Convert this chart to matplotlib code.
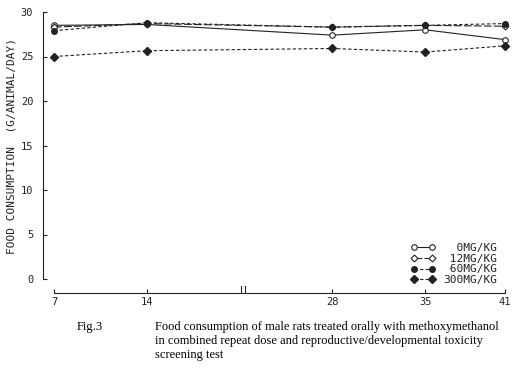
import numpy as np
import matplotlib
matplotlib.use("Agg")
import matplotlib.pyplot as plt
import matplotlib.transforms as mtransforms

# Days of administration and mean food consumption (g/animal/day)
days = [7, 14, 28, 35, 41]
dose_0 = [28.5, 28.6, 27.4, 28.0, 26.9]
dose_12 = [28.3, 28.7, 28.3, 28.5, 28.4]
dose_60 = [27.9, 28.8, 28.3, 28.5, 28.7]
dose_300 = [25.0, 25.65, 25.9, 25.5, 26.2]

labels = ["  0MG/KG", " 12MG/KG", " 60MG/KG", "300MG/KG"]
yticks = [0, 5, 10, 15, 20, 25, 30]

mono = "DejaVu Sans Mono"
ink = "#222222"

fig = plt.figure(figsize=(5.16, 3.74), dpi=100)
ax = fig.add_axes([43 / 516, 1 - 279 / 374, (510 - 43) / 516, (279 - 12) / 374])

ax.plot(days, dose_0, color=ink, lw=0.8, ls="-", marker="o", ms=4,
        mfc="white", mec=ink, mew=0.8, clip_on=False, label=labels[0])
ax.plot(days, dose_12, color=ink, lw=0.8, ls=(0, (7, 2)), marker="D", ms=3.5,
        mfc="white", mec=ink, mew=0.8, clip_on=False, label=labels[1])
ax.plot(days, dose_60, color=ink, lw=0.8, ls=(0, (3, 2)), marker="o", ms=4,
        mfc=ink, mec=ink, clip_on=False, label=labels[2])
ax.plot(days, dose_300, color=ink, lw=0.8, ls=(0, (3, 2)), marker="D", ms=4.5,
        mfc=ink, mec=ink, clip_on=False, label=labels[3])

ax.set_xlim(7 - 11 / 13.26, 41.4)
ax.set_ylim(0, 30)
ax.set_xticks(days)
ax.set_yticks(yticks)

for side in ("top", "right"):
    ax.spines[side].set_visible(False)
ax.spines["left"].set_bounds(0, 30)
ax.spines["bottom"].set_position(("outward", 10))
ax.spines["bottom"].set_bounds(7, 41)
for side in ("left", "bottom"):
    ax.spines[side].set_linewidth(0.8)
    ax.spines[side].set_color(ink)

ax.tick_params(direction="in", length=3, width=0.8, colors=ink, labelsize=7.5)
ax.tick_params(axis="y", pad=7)
ax.tick_params(axis="x", pad=3)
for lab in ax.get_xticklabels() + ax.get_yticklabels():
    lab.set_family(mono)

ax.set_ylabel("FOOD CONSUMPTION  (G/ANIMAL/DAY)", family=mono, fontsize=8,
              color=ink, labelpad=3)

# axis break marks on the day axis, between 14 and 28
tr = mtransforms.offset_copy(ax.get_xaxis_transform(), fig=fig, x=0, y=-10,
                             units="dots")
ax.plot([21.1, 21.4], [0, 0], color="white", lw=2, transform=tr, clip_on=False,
        solid_capstyle="butt")
for xb in (21.1, 21.4):
    ax.plot([xb, xb], [-0.012, 0.012], color=ink, lw=0.8, transform=tr,
            clip_on=False)

leg = ax.legend(loc="lower right", bbox_to_anchor=(0.993, -0.06), frameon=False,
                numpoints=2, handlelength=2.2, handletextpad=0.7,
                labelspacing=0.05, prop={"family": mono, "size": 8})
for t in leg.get_texts():
    t.set_color(ink)

serif = "Liberation Serif"
fig.text(77 / 516, 1 - 327 / 374, "Fig.3", family=serif, fontsize=9, va="center")
caption = ["Food consumption of male rats treated orally with methoxymethanol",
           "in combined repeat dose and reproductive/developmental toxicity",
           "screening test"]
for i, line in enumerate(caption):
    fig.text(155 / 516, 1 - (327 + 14 * i) / 374, line, family=serif,
             fontsize=9, va="center")

fig.savefig("out.png", dpi=100)
